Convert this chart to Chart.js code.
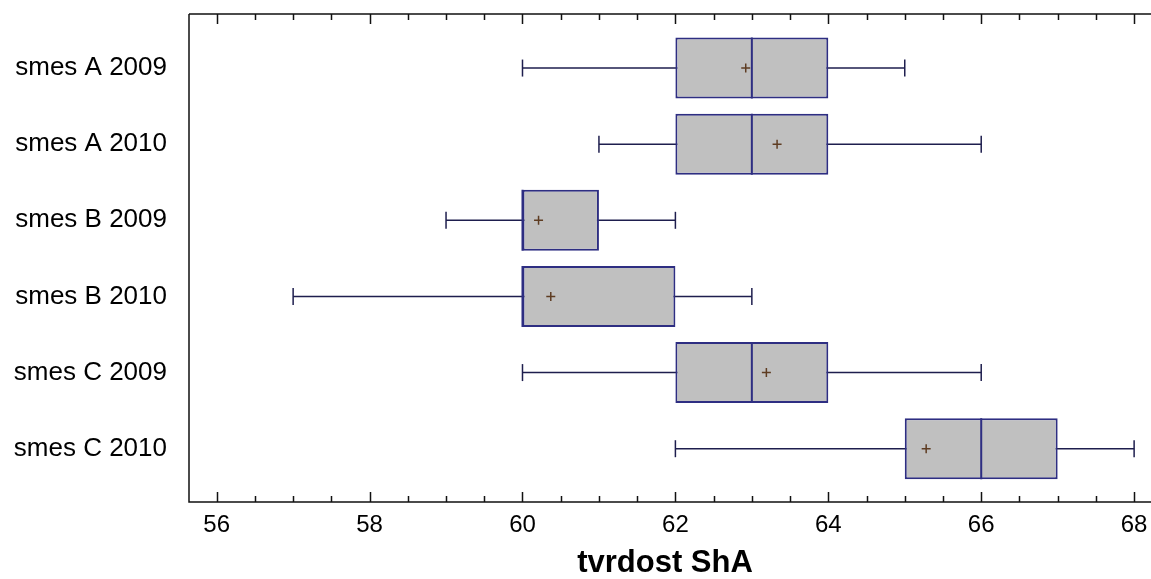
<!DOCTYPE html>
<html>
<head>
<meta charset="utf-8">
<script src="https://cdn.jsdelivr.net/npm/chart.js@4/dist/chart.umd.min.js"></script>
<style>
  html, body { margin: 0; padding: 0; background: #fff; }
  #wrap { width: 1151px; height: 579px; }
</style>
</head>
<body>
<div id="wrap"><canvas id="chartBox" width="1151" height="579"></canvas></div>
<script>
// data
const categories = ['smes A 2009', 'smes A 2010', 'smes B 2009', 'smes B 2010', 'smes C 2009', 'smes C 2010'];
const whiskerLow = [60, 61, 59, 57, 60, 62];
const q1 = [62, 62, 60, 60, 62, 65];
const medians = [63, 63, 60, 60, 63, 66];
const q3 = [64, 64, 61, 62, 64, 67];
const whiskerHigh = [65, 66, 62, 63, 66, 68];
const means = [62.92, 63.33, 60.21, 60.37, 63.19, 65.28];
const xTicks = [56, 58, 60, 62, 64, 66, 68];
const xTitle = 'tvrdost ShA';

const boxFill = '#c0c0c0';
const boxBorder = '#2e2e82';
const whiskerColor = '#1e1e4e';

// whisker segments, one dataset per row so the lines don't join
const whiskerSets = categories.map((c, i) => ({
  type: 'line',
  data: [{ x: whiskerLow[i], y: i }, { x: whiskerHigh[i], y: i }],
  borderColor: whiskerColor,
  borderWidth: 1.5,
  pointStyle: 'line',
  pointRotation: 90,
  pointRadius: 8.5,
  pointBorderColor: whiskerColor,
  pointBorderWidth: 1.5,
  order: 5
}));
const boxIndex = whiskerSets.length;

// median line across each box, drawn right after the boxes
const medianLines = {
  id: 'medianLines',
  afterDatasetDraw(chart, args) {
    if (args.index !== boxIndex) return;
    const { ctx, scales: { x } } = chart;
    const bars = chart.getDatasetMeta(boxIndex).data;
    ctx.save();
    ctx.strokeStyle = boxBorder;
    ctx.lineWidth = 2;
    ctx.beginPath();
    bars.forEach((bar, i) => {
      const px = x.getPixelForValue(medians[i]);
      ctx.moveTo(px, bar.y - bar.height / 2);
      ctx.lineTo(px, bar.y + bar.height / 2);
    });
    ctx.stroke();
    ctx.restore();
  }
};

// frame and tick marks (inward, minor every 0.5)
const frameTicks = {
  id: 'frameTicks',
  afterDraw(chart) {
    const { ctx, chartArea: a, scales: { x } } = chart;
    const right = chart.width;
    ctx.save();
    ctx.strokeStyle = '#111';
    ctx.lineWidth = 1.5;
    ctx.beginPath();
    ctx.moveTo(a.left, a.top);
    ctx.lineTo(right, a.top);
    ctx.moveTo(a.left, a.top);
    ctx.lineTo(a.left, a.bottom);
    ctx.lineTo(right, a.bottom);
    ctx.stroke();
    ctx.beginPath();
    for (let v = xTicks[0]; v <= xTicks[xTicks.length - 1]; v += 0.5) {
      const px = Math.round(x.getPixelForValue(v)) + 0.5;
      const len = xTicks.includes(v) ? 10 : 6;
      ctx.moveTo(px, a.bottom);
      ctx.lineTo(px, a.bottom - len);
      ctx.moveTo(px, a.top);
      ctx.lineTo(px, a.top + len);
    }
    ctx.stroke();
    ctx.restore();
  }
};

new Chart(document.getElementById('chartBox'), {
  data: {
    datasets: [
      ...whiskerSets,
      {
        type: 'bar',
        data: categories.map((c, i) => ({ x: [q1[i], q3[i]], y: i })),
        backgroundColor: boxFill,
        borderColor: boxBorder,
        borderWidth: 2,
        borderSkipped: false,
        grouped: false,
        barPercentage: 1,
        categoryPercentage: 0.8,
        order: 3
      },
      {
        type: 'line',
        showLine: false,
        data: categories.map((c, i) => ({ x: means[i], y: i })),
        pointStyle: 'cross',
        pointRadius: 4.5,
        pointBorderColor: '#5e3c22',
        pointBorderWidth: 1.5,
        order: 1
      }
    ]
  },
  options: {
    indexAxis: 'y',
    responsive: false,
    animation: false,
    events: [],
    layout: { padding: { top: 14, right: 0, left: 0, bottom: 0 } },
    plugins: { legend: { display: false }, tooltip: { enabled: false } },
    scales: {
      x: {
        type: 'linear',
        position: 'bottom',
        min: 55.638,
        max: 68.09,
        offset: false,
        grid: { display: false },
        border: { display: false },
        afterBuildTicks: s => { s.ticks = xTicks.map(v => ({ value: v })); },
        afterFit: s => { s.height = 77; s.paddingLeft = 0; s.paddingRight = 0; },
        ticks: {
          color: '#000',
          padding: 1,
          font: { family: 'Liberation Sans', size: 24 }
        },
        title: {
          display: true,
          text: xTitle,
          color: '#000',
          padding: { top: 0, bottom: 0 },
          font: { family: 'Liberation Sans', size: 31, weight: 'bold', lineHeight: 1 }
        }
      },
      y: {
        type: 'linear',
        reverse: true,
        offset: false,
        min: -0.71,
        max: 5.70,
        grid: { display: false },
        border: { display: false },
        afterBuildTicks: s => { s.ticks = categories.map((c, i) => ({ value: i })); },
        afterFit: s => { s.width = 189; s.paddingTop = 0; s.paddingBottom = 0; },
        ticks: {
          color: '#000',
          padding: 14,
          callback: v => categories[v],
          font: { family: 'Liberation Sans', size: 26 }
        }
      }
    }
  },
  plugins: [medianLines, frameTicks]
});
</script>
</body>
</html>
